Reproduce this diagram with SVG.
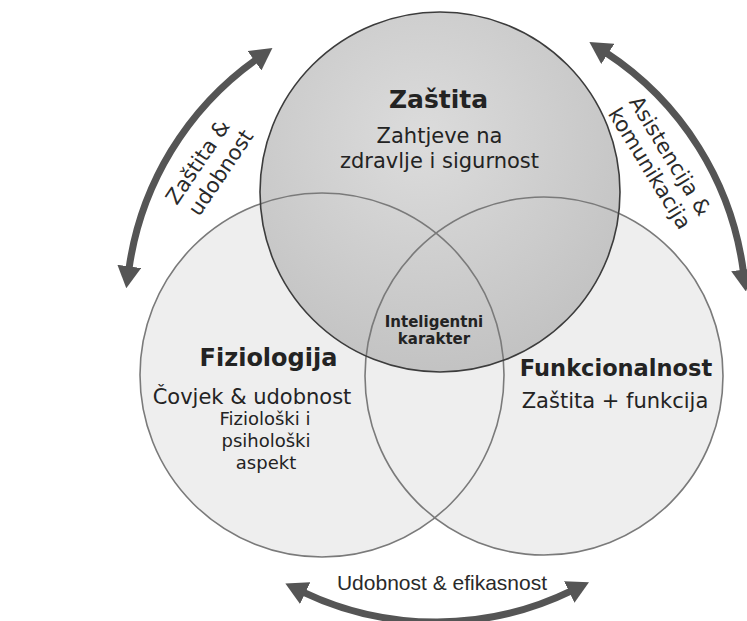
<svg xmlns="http://www.w3.org/2000/svg" width="747" height="621" viewBox="0 0 747 621">
<defs>
<style>
.fillc{fill:#eeeeee}
.ol{fill:none;stroke:#7a7a7a;stroke-width:1.6}
.olt{fill:none;stroke:#3c3c3c;stroke-width:1.6}
.t{font-family:"DejaVu Sans",Verdana,sans-serif;fill:#232323;text-anchor:middle}
.b{font-weight:bold}
.a{font-family:"DejaVu Sans",Verdana,sans-serif;fill:#2a2a2a;text-anchor:middle;font-size:21px}
.bt{font-family:"Liberation Sans",Arial,sans-serif;fill:#2a2a2a;text-anchor:middle;font-size:21px}
.arr{fill:none;stroke:#555;stroke-width:7;marker-start:url(#ah);marker-end:url(#ah)}
</style>
<radialGradient id="g" cx="0.45" cy="0.35" r="0.72">
<stop offset="0" stop-color="#dcdcdc"/>
<stop offset="1" stop-color="#c0c0c0"/>
</radialGradient>
<marker id="ah" viewBox="0 0 22 24" markerUnits="userSpaceOnUse" markerWidth="22" markerHeight="24" refX="3" refY="12" orient="auto-start-reverse">
<path d="M0,0 L22,12 L0,24 z" fill="#555"/>
</marker>
</defs>
<rect width="747" height="621" fill="#fff"/>
<g id="fills">
<circle class="fillc" cx="322" cy="375" r="182"/>
<circle class="fillc" cx="544" cy="376" r="179"/>
<circle cx="440" cy="192" r="180" fill="url(#g)"/>
</g>
<g id="connectors">
<path class="arr" d="M256.9,59 A310,310 0 0 0 128.9,269.4"/>
<path class="arr" d="M605.3,52.3 A310,310 0 0 1 743.5,272.6"/>
<path class="arr" d="M302.5,591.8 A310,310 0 0 0 571.9,590.6"/>
<g transform="translate(198,162) rotate(-56)">
<text class="a" x="0" y="7">Zaštita &amp;</text>
<text class="a" x="4" y="32">udobnost</text>
</g>
<g transform="translate(670,156) rotate(58.5)">
<text class="a" x="0" y="7">Asistencija &amp;</text>
<text class="a" x="0" y="31">komunikacija</text>
</g>
<text class="bt" x="442" y="590">Udobnost &amp; efikasnost</text>
</g>
<g id="fiziologija">
<circle class="ol" cx="322" cy="375" r="182"/>
<text class="t b" x="268.5" y="366" font-size="24">Fiziologija</text>
<text class="t" x="252" y="404" font-size="21">Čovjek &amp; udobnost</text>
<text class="t" x="265" y="425" font-size="18">Fiziološki i</text>
<text class="t" x="266" y="447" font-size="18">psihološki</text>
<text class="t" x="266" y="469" font-size="18">aspekt</text>
</g>
<g id="funkcionalnost">
<circle class="ol" cx="544" cy="376" r="179"/>
<text class="t b" x="616" y="376" font-size="22.5">Funkcionalnost</text>
<text class="t" x="615" y="408" font-size="21">Zaštita + funkcija</text>
</g>
<g id="zastita">
<circle class="olt" cx="440" cy="192" r="180"/>
<text class="t b" x="438.5" y="108" font-size="25">Zaštita</text>
<text class="t" x="439.5" y="143" font-size="21">Zahtjeve na</text>
<text class="t" x="439.5" y="168" font-size="21">zdravlje i sigurnost</text>
</g>
<g id="inteligentni">
<text class="t b" x="434" y="327" font-size="15">Inteligentni</text>
<text class="t b" x="434" y="344" font-size="15">karakter</text>
</g>
</svg>
